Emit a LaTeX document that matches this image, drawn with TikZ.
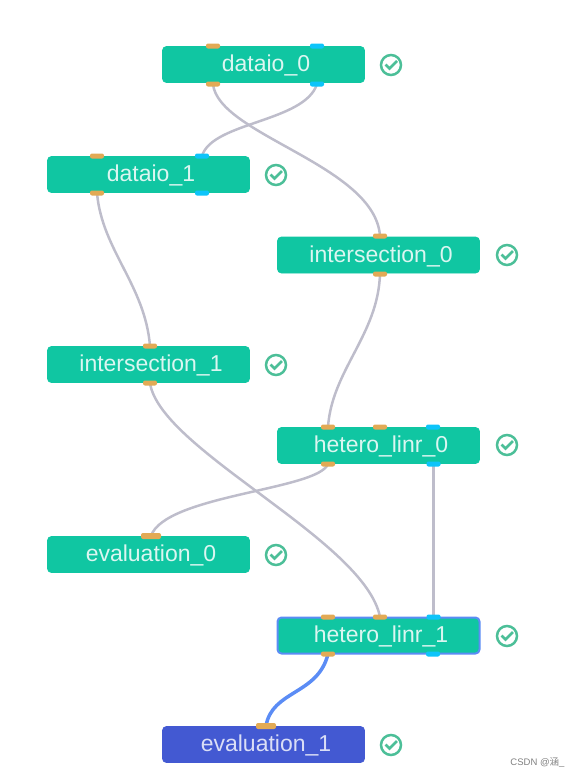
\documentclass[tikz,border=0pt]{standalone}
\usepackage{fontspec}
\setmainfont{Liberation Sans}
\newfontfamily\cjkfont{Noto Sans CJK SC}
\definecolor{jobgreen}{HTML}{10C6A2}
\definecolor{jobblue}{HTML}{4359D2}
\definecolor{portorange}{HTML}{E2AA55}
\definecolor{portblue}{HTML}{0DC4FA}
\definecolor{linkgray}{HTML}{BEBDCB}
\definecolor{linkblue}{HTML}{5B8CF5}
\definecolor{checkgreen}{HTML}{4CBF98}
\tikzset{
    job/.style={draw=jobgreen, fill=jobgreen, rounded corners=4pt, line width=0.8pt,
        minimum width=202pt, minimum height=36pt, inner sep=0pt, text=white!85!jobgreen,
        text height=16pt, text depth=2pt, execute at begin node=\hspace*{5pt},
        font=\fontsize{23}{25}\selectfont},
    dataport/.style={fill=portorange, rounded corners=2pt, minimum width=14pt, minimum height=5pt, inner sep=0pt},
    modelport/.style={fill=portblue, rounded corners=2pt, minimum width=14pt, minimum height=5pt, inner sep=0pt},
    multiport/.style={fill=portorange, rounded corners=2pt, minimum width=20pt, minimum height=6pt, inner sep=0pt},
    link/.style={draw=linkgray, line width=2.5pt},
    donecircle/.style={circle, draw=checkgreen, line width=2.5pt, minimum size=20pt, inner sep=0pt},
    donetick/.style={draw=checkgreen, line width=2.5pt}
}
\begin{document}
\begin{tikzpicture}[x=1pt, y=-1pt]
    \useasboundingbox (0, 0) rectangle (582, 777);

    % links go first, ports sit on top
    \coordinate (d0bo) at (213, 84);
    \coordinate (d0bm) at (317, 84);
    \coordinate (d1tm) at (202, 156);
    \coordinate (d1bo) at (97, 193);
    \coordinate (i0to) at (380, 236);
    \coordinate (i0bo) at (380, 274);
    \coordinate (i1to) at (150, 346);
    \coordinate (i1bo) at (150, 383);
    \coordinate (h0to) at (328, 427);
    \coordinate (h0bo) at (328, 464);
    \coordinate (h0bm) at (433.5, 464);
    \coordinate (e0to) at (151, 536);
    \coordinate (h1tm) at (433.5, 617);
    \coordinate (h1tr) at (380, 617);
    \coordinate (h1bo) at (328, 654);
    \coordinate (e1to) at (266, 726);

    \draw[link] (d0bo) .. controls (218, 135) and (375, 165) .. (i0to);
    \draw[link] (d0bm) .. controls (305, 122) and (212, 122) .. (d1tm);
    \draw[link] (d1bo) .. controls (102, 250) and (145, 285) .. (i1to);
    \draw[link] (i0bo) .. controls (378, 335) and (332, 370) .. (h0to);
    \draw[link] (i1bo) .. controls (160, 450) and (365, 540) .. (h1tr);
    \draw[link] (h0bo) .. controls (318, 490) and (165, 495) .. (e0to);
    \draw[link] (h0bm) -- (h1tm);
    \draw[draw=linkblue, line width=3.5pt] (h1bo) .. controls (318, 695) and (272, 690) .. (e1to);

    % jobs
    \node[job] (dataio0) at (263.5, 64.5) {dataio\_0};
    \node[job] (dataio1) at (148.5, 174.5) {dataio\_1};
    \node[job] (intersection0) at (378.5, 255) {intersection\_0};
    \node[job] (intersection1) at (148.5, 364.5) {intersection\_1};
    \node[job] (heterolinr0) at (378.5, 445.5) {hetero\_linr\_0};
    \node[job] (evaluation0) at (148.5, 554.5) {evaluation\_0};
    \node[job, draw=linkblue, line width=2pt] (heterolinr1) at (378.5, 635.5) {hetero\_linr\_1};
    \node[job, draw=jobblue, fill=jobblue, text=white!80!jobblue] (evaluation1) at (263.5, 744.5) {evaluation\_1};

    % ports
    \node[dataport] (p1) at (213, 46) {};
    \node[modelport] (p2) at (317, 46) {};
    \node[dataport] (p3) at (d0bo) {};
    \node[modelport] (p4) at (d0bm) {};
    \node[dataport] (p5) at (97, 156) {};
    \node[modelport] (p6) at (d1tm) {};
    \node[dataport] (p7) at (d1bo) {};
    \node[modelport] (p8) at (202, 193) {};
    \node[dataport] (p9) at (i0to) {};
    \node[dataport] (p10) at (i0bo) {};
    \node[dataport] (p11) at (i1to) {};
    \node[dataport] (p12) at (i1bo) {};
    \node[dataport] (p13) at (h0to) {};
    \node[dataport] (p14) at (380, 427) {};
    \node[modelport] (p15) at (433, 427) {};
    \node[dataport] (p16) at (h0bo) {};
    \node[modelport] (p17) at (h0bm) {};
    \node[multiport] (p18) at (e0to) {};
    \node[dataport] (p19) at (328, 617) {};
    \node[dataport] (p20) at (h1tr) {};
    \node[modelport] (p21) at (h1tm) {};
    \node[dataport] (p22) at (h1bo) {};
    \node[modelport] (p23) at (433, 654) {};
    \node[multiport] (p24) at (e1to) {};

    % status marks
    \foreach \jobname/\markx/\marky in {dataio0/391/65, dataio1/276/175, intersection0/507/255,
        intersection1/276/365, heterolinr0/507/445, evaluation0/276/555, heterolinr1/507/636, evaluation1/391/745} {
        \node[donecircle] (done\jobname) at (\markx, \marky) {};
        \draw[donetick] ([shift={(-5.5pt, 0.5pt)}]done\jobname.center) -- ++(4pt, -4pt) -- ++(7.5pt, 7.5pt);
    }

    \node[text=gray, font=\fontsize{9.5}{10}\selectfont, anchor=east] (watermark) at (568, 763) {CSDN @{\cjkfont 涵}\_};
\end{tikzpicture}
\end{document}
